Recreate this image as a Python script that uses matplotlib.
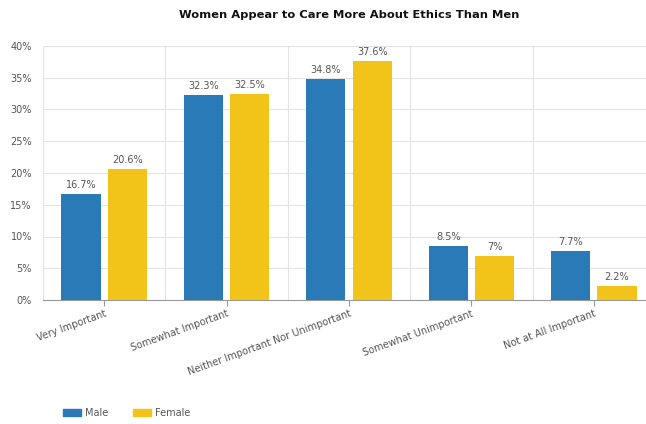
import matplotlib
matplotlib.use("Agg")
import matplotlib.pyplot as plt
import numpy as np
from matplotlib.patches import Patch

categories = ["Very Important", "Somewhat Important", "Neither Important Nor Unimportant",
              "Somewhat Unimportant", "Not at All Important"]
male = [16.7, 32.3, 34.8, 8.5, 7.7]
female = [20.6, 32.5, 37.6, 7.0, 2.2]
male_labels = ["16.7%", "32.3%", "34.8%", "8.5%", "7.7%"]
female_labels = ["20.6%", "32.5%", "37.6%", "7%", "2.2%"]
yticks = [0, 5, 10, 15, 20, 25, 30, 35, 40]

blue = "#2a7ab8"
yellow = "#f2c318"
txt = "#555555"

W, H = 646, 424
fig = plt.figure(figsize=(W/100, H/100), dpi=100)
left, right, top, bottom = 43, 655, 46, 300
ax = fig.add_axes([left/W, 1-bottom/H, (right-left)/W, (bottom-top)/H])

x = np.arange(len(categories))
bw = 0.32
off = 0.19
b1 = ax.bar(x - off, male, bw, color=blue, zorder=3)
b2 = ax.bar(x + off, female, bw, color=yellow, zorder=3)
for bars, labs in ((b1, male_labels), (b2, female_labels)):
    for b, l in zip(bars, labs):
        ax.text(b.get_x()+b.get_width()/2, b.get_height()+0.6, l, ha="center", va="bottom",
                fontsize=7, color=txt)

ax.set_xlim(-0.5, len(categories)-0.5)
ax.set_ylim(0, 40)
ax.set_yticks(yticks)
ax.set_yticklabels([f"{t}%" for t in yticks], fontsize=7, color=txt)
ax.set_xticks(x)
ax.set_xticklabels(categories, rotation=20, ha="right", rotation_mode="anchor", fontsize=7, color=txt)
ax.set_xticks(np.arange(-0.5, len(categories), 1), minor=True)
ax.grid(axis="y", color="#e3e3e3", lw=0.8, zorder=0)
ax.grid(axis="x", which="minor", color="#e3e3e3", lw=0.8, zorder=0)
ax.tick_params(axis="x", which="major", length=4, color="#999999", pad=2)
ax.tick_params(axis="x", which="minor", length=0)
ax.tick_params(axis="y", length=0, pad=8)
for s in ["top", "right", "left"]:
    ax.spines[s].set_visible(False)
ax.spines["bottom"].set_color("#999999")

fig.text(349/W, 1-15/H, "Women Appear to Care More About Ethics Than Men", ha="center", va="center",
         fontsize=8.25, fontweight="bold", color="#111111")

handles = [Patch(color=blue, label="Male"), Patch(color=yellow, label="Female")]
fig.legend(handles=handles, loc="center left", bbox_to_anchor=(54/W, 1-413/H), ncol=2, frameon=False,
           fontsize=7, labelcolor=txt, handlelength=1.85, handleheight=0.75, columnspacing=2.6,
           handletextpad=0.4)

fig.savefig("out.png", dpi=100)
